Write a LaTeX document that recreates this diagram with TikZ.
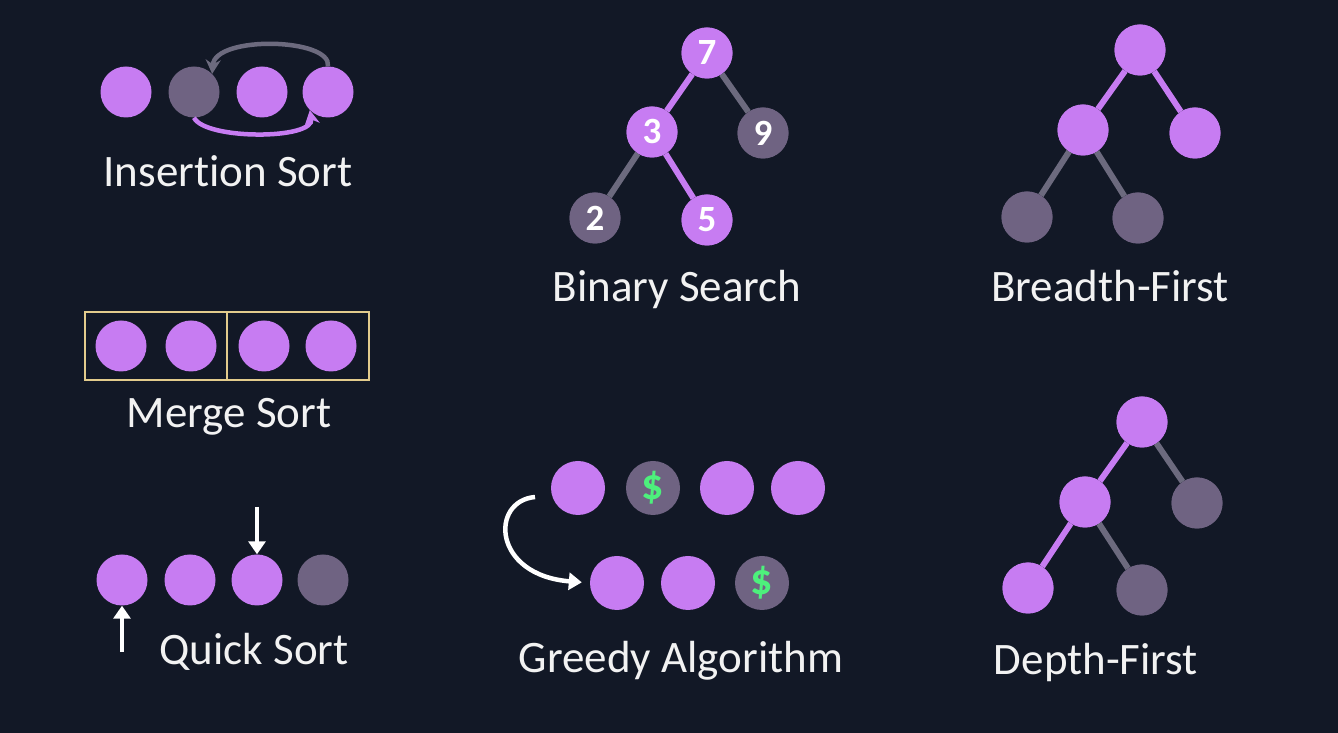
\documentclass[tikz,border=0pt]{standalone}
\usepackage{fontspec}
\setmainfont{Carlito}[RawFeature={-liga}]
\usetikzlibrary{arrows.meta}
\definecolor{bgc}{HTML}{121826}
\definecolor{vio}{HTML}{C77CF2}
\definecolor{dim}{HTML}{6F6382}
\definecolor{dimline}{HTML}{6C6A7E}
\definecolor{gold}{HTML}{E2CB8C}
\definecolor{cash}{HTML}{4DF07C}
\definecolor{txt}{HTML}{F2F2F2}
\tikzset{
  pn/.style={circle,fill=vio,minimum size=51pt,inner sep=0pt},
  gn/.style={circle,fill=dim,minimum size=51pt,inner sep=0pt},
  num/.style={text=white,font=\fontsize{37}{40}\selectfont\bfseries},
  dol/.style={text=cash,font=\fontsize{44}{48}\selectfont\bfseries},
  lbl/.style={anchor=base,text=txt,font=\fontsize{45}{54}\selectfont,inner sep=0pt},
  pe/.style={draw=vio,line width=6pt},
  ge/.style={draw=dimline,line width=6pt},
  warrow/.style={draw=white,line width=4.5pt,-{Triangle[length=13pt,width=17pt]}},
}
\begin{document}
\begin{tikzpicture}[x=1pt,y=1pt]
\fill[bgc] (0,0) rectangle (1338,733);
\useasboundingbox (0,0) rectangle (1338,733);

% Insertion Sort
\node[pn] (i1) at (126,641) {};
\node[gn] (i2) at (194,641) {};
\node[pn] (i3) at (262,641) {};
\node[pn] (i4) at (328,641) {};
\draw[draw=dimline,line width=4.5pt,-{Stealth[length=14pt,width=15pt]}]
  (i4.north) .. controls (332,695) and (215,698) .. (i2.north east);
\draw[draw=vio,line width=4.5pt,-{Stealth[length=14pt,width=15pt]}]
  (i2.south) .. controls (205,593) and (315,593) .. (i4.south west);
\node[lbl] (lins) at (228,546) {Insertion Sort};

% Merge Sort
\node[draw=gold,line width=2.5pt,minimum width=142pt,minimum height=68pt,inner sep=0pt] (mb1) at (156,387) {};
\node[draw=gold,line width=2.5pt,minimum width=142pt,minimum height=68pt,inner sep=0pt] (mb2) at (298,387) {};
\node[pn] (m1) at (121,387) {};
\node[pn] (m2) at (191,387) {};
\node[pn] (m3) at (264,387) {};
\node[pn] (m4) at (331,387) {};
\node[lbl] (lmer) at (229,305) {Merge Sort};

% Quick Sort
\node[pn] (q1) at (122,153) {};
\node[pn] (q2) at (190,153) {};
\node[pn] (q3) at (257,153) {};
\node[gn] (q4) at (323,153) {};
\coordinate (qa) at (257,226);
\coordinate (qb) at (122,81);
\draw[warrow] (qa) -- (q3.north);
\draw[warrow] (qb) -- (q1.south);
\node[lbl] (lqs) at (254,68) {Quick Sort};

% Binary Search
\node[pn] (b7) at (707,680) {};
\node[pn] (b3) at (652,601) {};
\node[gn] (b9) at (763,600) {};
\node[gn] (b2) at (595,515) {};
\node[pn] (b5) at (707,513) {};
\draw[pe] (b7) -- (b3);
\draw[ge] (b7) -- (b9);
\draw[ge] (b3) -- (b2);
\draw[pe] (b3) -- (b5);
\node[pn,num] at (b7) {7};
\node[pn,num] at (b3) {3};
\node[gn,num] at (b9) {9};
\node[gn,num] at (b2) {2};
\node[pn,num] at (b5) {5};
\node[lbl] (lbin) at (677,431) {Binary Search};

% Breadth-First
\node[pn] (r0) at (1140,683) {};
\node[pn] (rl) at (1083,603) {};
\node[pn] (rr) at (1195,600) {};
\node[gn] (rll) at (1027,516) {};
\node[gn] (rlr) at (1138,515) {};
\draw[pe] (r0) -- (rl);
\draw[pe] (r0) -- (rr);
\draw[ge] (rl) -- (rll);
\draw[ge] (rl) -- (rlr);
\node[pn] at (r0) {};
\node[pn] at (rl) {};
\node[pn] at (rr) {};
\node[gn] at (rll) {};
\node[gn] at (rlr) {};
\node[lbl] (lbfs) at (1110,431) {Breadth-First};

% Depth-First
\node[pn] (d0) at (1142,311) {};
\node[pn] (dl) at (1085,231) {};
\node[gn] (dr) at (1197,230) {};
\node[pn] (dll) at (1028,145) {};
\node[gn] (dlr) at (1142,143) {};
\draw[pe] (d0) -- (dl);
\draw[ge] (d0) -- (dr);
\draw[pe] (dl) -- (dll);
\draw[ge] (dl) -- (dlr);
\node[pn] at (d0) {};
\node[pn] at (dl) {};
\node[gn] at (dr) {};
\node[pn] at (dll) {};
\node[gn] at (dlr) {};
\node[lbl] (ldfs) at (1096,58) {Depth-First};

% Greedy Algorithm
\node[pn,minimum size=54pt] (g1) at (578,245) {};
\node[gn,dol,minimum size=54pt] (g2) at (653,245) {\$};
\node[pn,minimum size=54pt] (g3) at (727,245) {};
\node[pn,minimum size=54pt] (g4) at (798,245) {};
\node[pn,minimum size=54pt] (g5) at (617,150) {};
\node[pn,minimum size=54pt] (g6) at (688,150) {};
\node[gn,dol,minimum size=54pt] (g7) at (762,150) {\$};
\coordinate (gs) at (535,236);
\draw[warrow,shorten >=8pt]
  (gs) .. controls (490,232) and (492,158) .. (g5.west);
\node[lbl] (lgr) at (681,60) {Greedy Algorithm};
\end{tikzpicture}
\end{document}
